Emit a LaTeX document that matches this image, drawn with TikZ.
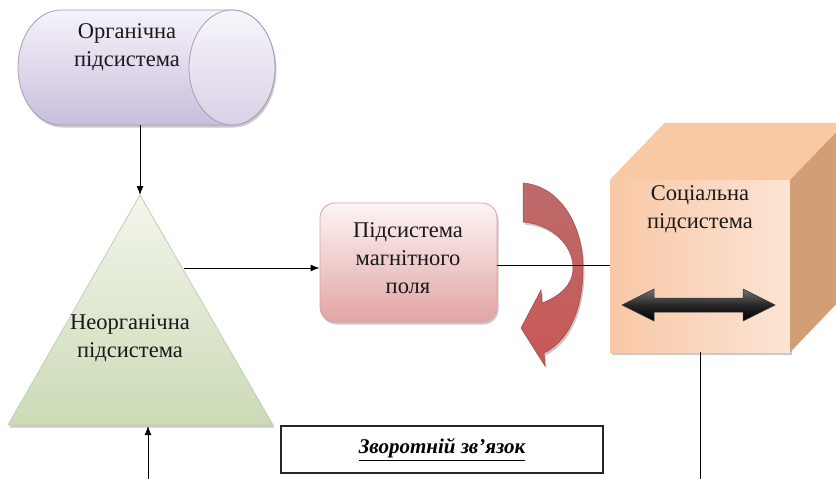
\documentclass[tikz,border=0pt]{standalone}
\usepackage{fontspec}
\setmainfont{Liberation Serif}
\newfontfamily\tnr{Liberation Serif}
\usetikzlibrary{shadows,arrows.meta}
\definecolor{lavTop}{HTML}{F6F3FA}
\definecolor{lavBot}{HTML}{C9BEDC}
\definecolor{lavLine}{HTML}{A69DB8}
\definecolor{grTop}{HTML}{F2F6EC}
\definecolor{grBot}{HTML}{CCDAB6}
\definecolor{grLine}{HTML}{C3D0AE}
\definecolor{pkTop}{HTML}{FDF4F4}
\definecolor{pkBot}{HTML}{E2A4A4}
\definecolor{pkLine}{HTML}{DDA0A0}
\definecolor{redTop}{HTML}{BD6B6B}
\definecolor{redBot}{HTML}{C85856}
\definecolor{redLine}{HTML}{A04848}
\definecolor{cubeFrontA}{HTML}{F8C8A6}
\definecolor{cubeFrontB}{HTML}{FCE4D4}
\definecolor{cubeTop}{HTML}{F8C9A2}
\definecolor{cubeSide}{HTML}{D39E76}
\tikzset{
  arr/.style={-{Latex[length=9pt,width=7pt]}, line width=1pt, black},
  conn/.style={line width=1pt, black},
  shd/.style={drop shadow={shadow xshift=1.5pt, shadow yshift=-2.5pt, opacity=0.35, fill=black!60}},
  lbl/.style={align=center, font=\tnr\fontsize{22.5}{28}\selectfont, text=black!90, inner sep=0pt},
}
\begin{document}
\begin{tikzpicture}[x=1pt,y=-1pt]
\clip (0,0) rectangle (836,479);
\fill[white] (0,0) rectangle (836,479);

% ---------- cylinder (organic) ----------
\path[shd, top color=lavTop, bottom color=lavBot, draw=lavLine, line width=0.8pt]
  (232,10) arc[start angle=-90, end angle=90, x radius=43, y radius=57.5]
  -- (61,125) arc[start angle=90, end angle=270, x radius=43, y radius=57.5] -- cycle;
\path[top color=lavTop!80!white, bottom color=lavBot!70!white, draw=lavLine, line width=0.8pt]
  (232,67.5) ellipse [x radius=43, y radius=57.5];
\node[lbl] (org) at (127,47) {Органічна\\підсистема};
\coordinate (orgB) at (140,125);

% ---------- triangle (inorganic) ----------
\coordinate (triTop) at (140,195);
\coordinate (triBL) at (8,425);
\coordinate (triBR) at (273,425);
\path[shd, top color=grTop, bottom color=grBot, draw=grLine, line width=0.8pt]
  (triTop) -- (triBR) -- (triBL) -- cycle;
\node[lbl] (inorg) at (130,338) {Неорганічна\\підсистема};
\coordinate (triR) at (184,268);
\coordinate (triBase) at (148,426);

% ---------- rounded box (magnetic field) ----------
\node[shd, draw=pkLine, line width=0.8pt, top color=pkTop, bottom color=pkBot,
      rounded corners=15pt, minimum width=177pt, minimum height=119pt] (mag) at (408.5,262.5) {};
\node[lbl] (magtext) at (408,258) {Підсистема\\магнітного\\поля};

% ---------- curved arrow ----------
\path[shd, top color=redTop, bottom color=redBot, draw=redLine, line width=0.5pt]
  (523,183) .. controls (560,186) and (583,225) .. (583,268)
  .. controls (583,312) and (567,342) .. (544,353)
  -- (545,366) -- (521,328) -- (541,290) -- (542,303)
  .. controls (560,296) and (573,285) .. (573,268)
  .. controls (573,245) and (552,224) .. (523,222) -- cycle;

% ---------- cube (social) ----------
\node[shd, left color=cubeFrontA, right color=cubeFrontB, minimum width=180pt, minimum height=172pt, inner sep=0pt] (soc) at (700,266) {};
\fill[cubeTop] (soc.north west) -- ++(55,-57) -- ++(180,0) -- (soc.north east) -- cycle;
\fill[cubeSide] (soc.north east) -- ++(55,-57) -- ++(0,172) -- (soc.south east) -- cycle;
\node[lbl] (soctext) at (700,209) {Соціальна\\підсистема};
\path[top color=black!55, bottom color=black, middle color=black!85, draw=black!80, line width=0.5pt]
  (622,305) -- (654,289) -- (654,298) -- (743,298) -- (743,289) -- (775,305)
  -- (743,321) -- (743,312) -- (654,312) -- (654,321) -- cycle;

% ---------- feedback box ----------
\node[draw=black!85, line width=1.2pt, fill=white, minimum width=322pt, minimum height=47pt, inner sep=0pt,
      font=\tnr\fontsize{21}{25}\selectfont\bfseries\itshape] (fb) at (442,449.5) {\underline{Зворотній зв’язок}};

% ---------- connectors ----------
\draw[arr] (orgB) -- (triTop);
\draw[arr] (triR) -- (triR -| mag.west);
\draw[conn] (mag.east |- 0,265) -- (soc.west |- 0,265);
\coordinate (bottomL) at (148,479);
\coordinate (bottomR) at (700,479);
\draw[arr] (bottomL) -- (triBase);
\draw[conn] (soc.south) -- (bottomR);
\end{tikzpicture}
\end{document}
